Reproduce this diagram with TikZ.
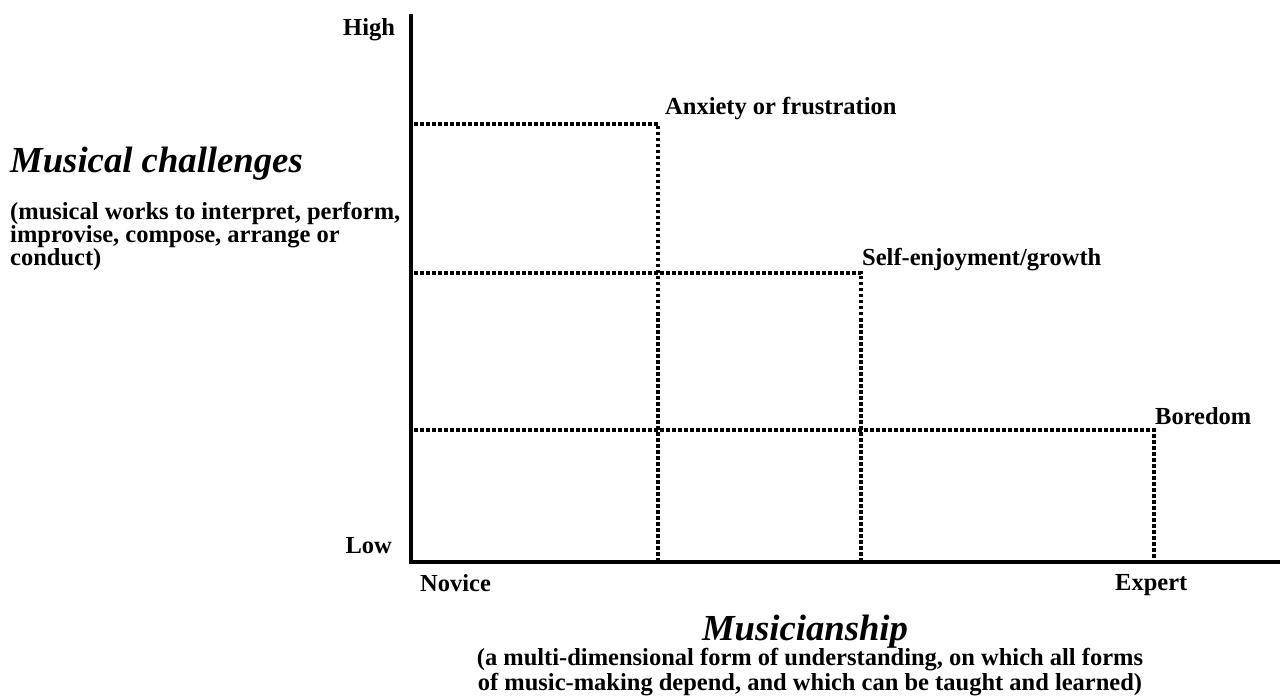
\documentclass[tikz,border=0pt]{standalone}
\usepackage{fontspec}
\setmainfont{Liberation Serif}
\begin{document}
\begin{tikzpicture}[x=1pt,y=-1pt,
  lbl/.style={inner sep=0pt,font=\bfseries\fontsize{24.5}{23}\selectfont},
  ttl/.style={inner sep=0pt,font=\bfseries\itshape\fontsize{36.7}{38}\selectfont},
  axis/.style={line width=3.5pt},
  grid/.style={line width=3.5pt,dash pattern=on 3.5pt off 2.5pt}]
\useasboundingbox (0,0) rectangle (1281,700);
% axes
\coordinate (top) at (411,14);
\coordinate (origin) at (411,562);
\coordinate (xend) at (1280,562);
\draw[axis] (top) -- (origin) -- (xend);
% dotted regions
\coordinate (a1) at (414,124); \coordinate (a2) at (658,124); \coordinate (a3) at (658,560);
\coordinate (s1) at (414,273); \coordinate (s2) at (861,273); \coordinate (s3) at (861,560);
\coordinate (b1) at (414,430); \coordinate (b2) at (1154,430); \coordinate (b3) at (1154,560);
\draw[grid] (a1) -- (a2) -- (a3);
\draw[grid] (s1) -- (s2) -- (s3);
\draw[grid] (b1) -- (b2) -- (b3);
% labels
\node[lbl,anchor=base west] (high) at (343,36) {High};
\node[lbl,anchor=base east] (low) at (392,553) {Low};
\node[lbl,anchor=base west] (novice) at (420,591) {Novice};
\node[lbl,anchor=base west] (expert) at (1115,590) {Expert};
\node[lbl,anchor=base west] (anx) at (665,115) {Anxiety or frustration};
\node[lbl,anchor=base west] (self) at (862,266) {Self-enjoyment/growth};
\node[lbl,anchor=base west] (bore) at (1155,424) {Boredom};
\node[ttl,anchor=base west] (mc) at (10,173) {Musical challenges};
\node[lbl,anchor=north west,align=left] (mcsub) at (10,202) {(musical works to interpret, perform,\\improvise, compose, arrange or\\conduct)};
\node[ttl,anchor=base] (mus) at (805,640) {Musicianship};
\node[lbl,anchor=north,align=center,font=\bfseries\fontsize{24.5}{25}\selectfont] (mussub) at (810,648) {(a multi-dimensional form of understanding, on which all forms\\of music-making depend, and which can be taught and learned)};
\end{tikzpicture}
\end{document}
